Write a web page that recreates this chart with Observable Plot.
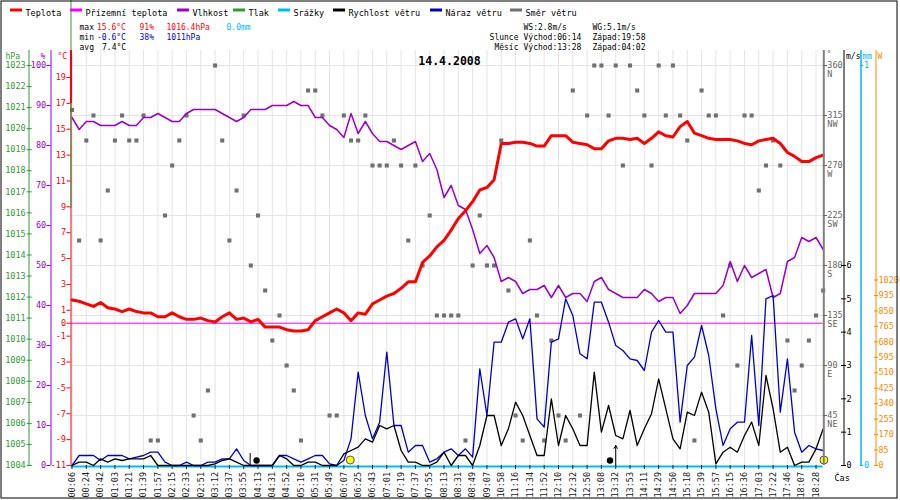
<!DOCTYPE html>
<html><head><meta charset="utf-8">
<script src="https://cdn.jsdelivr.net/npm/d3@7"></script>
<script src="https://cdn.jsdelivr.net/npm/@observablehq/plot@0.6"></script>
<style>body{margin:0;background:#fff}</style>
</head><body><div id="chart"></div>
<script>
// ---------- data ----------
const times = ["00:06","00:24","00:42","01:03","01:21","01:39","01:57","02:15","02:33","02:51","03:12","03:37","03:55","04:13","04:31","04:52","05:10","05:31","05:49","06:07","06:25","06:43","07:01","07:19","07:37","07:55","08:13","08:31","08:49","09:07","10:58","11:16","11:34","11:52","12:10","12:32","12:50","13:08","13:32","13:53","14:11","14:29","14:50","15:18","15:39","15:57","16:15","16:36","17:03","17:22","17:46","18:07","18:28"];

const temperature = [
 1.8,1.7,1.5,1.3,1.6,1.2,1.1,0.9,1.1,0.9,
 0.8,0.8,0.5,0.5,0.8,0.5,0.3,0.3,0.4,0.2,
 0.1,0.5,0.8,0.3,0.4,0.1,0.3,-0.3,-0.3,-0.3,
 -0.5,-0.6,-0.6,-0.5,0.2,0.5,0.8,1.1,0.8,0.2,
 0.8,0.7,1.5,1.8,2.1,2.3,2.7,3.2,3.2,4.7,
 5.2,5.9,6.4,7.2,8.1,8.7,9.4,10.3,10.5,11.1,
 13.9,13.9,14.0,14.0,13.9,13.7,13.7,14.5,14.5,14.5,
 14.0,13.9,13.8,13.5,13.5,14.1,14.3,14.3,14.2,14.3,
 13.9,14.3,14.8,14.5,14.4,15.2,15.6,14.7,14.5,14.3,
 14.2,14.2,14.2,14.1,13.9,13.8,14.1,14.2,14.3,13.9,
 13.2,12.9,12.5,12.5,12.8,13.0];

const humidity = [
 87,84,86,86,85,85,85,86,85,85,
 87,87,88,87,86,86,88,89,89,89,
 89,88,87,86,87,89,89,89,90,90,
 90,91,90,90,87,87,85,84,82,88,
 83,86,83,81,81,80,79,80,81,76,
 78,74,67,70,65,64,59,53,55,52,
 46,47,46,43,44,44,45,42,45,42,
 43,43,41,46,47,44,43,42,42,42,
 44,43,41,42,42,38,40,43,43,43,
 43,45,51,46,50,47,48,49,42,43,
 51,52,57,56,57,54];

const windSpeed = [
 0,0.1,0.1,0,0.2,0.1,0.2,0.15,0.2,0.2,
 0.2,0.3,0,0,0,0,0,0,0,0,
 0.05,0.15,0.2,0.1,0,0,0,0,0,0.3,
 0.2,0,0,0.1,0.1,0,0,0,0.35,0.45,
 0.55,0.8,0.7,1.2,1.1,1.2,0.45,0.1,0.1,0,
 0,0.1,0.4,0,0.3,0.3,0,0.6,1.5,1.5,
 0.6,1.1,1.9,1.5,0.9,0.3,0.3,2.0,0.6,1.5,
 1.1,0.6,0.6,2.8,1.0,1.8,0.9,0.8,1.65,0.6,
 1.1,1.55,2.6,1.7,0.8,0.5,1.6,1.5,2.2,1.6,
 0.05,0.4,0.55,0.4,0.9,1.3,0.6,2.7,1.7,0.4,
 0.55,0,0.1,0.1,0.5,1.1];

const windGust = [
 0,0.3,0.3,0.3,0.15,0.3,0.3,0.3,0.2,0.25,
 0.3,0.4,0.4,0.1,0,0,0.1,0,0,0.1,
 0.1,0.2,0.2,0.5,0.15,0,0,0,0,0.3,
 0.3,0.2,0.1,0.2,0.3,0.3,0.05,0,0.15,0.8,
 2.8,1.5,0.8,1.3,3.4,1.2,1.2,0.4,0.6,0.6,
 0.1,0.2,0.4,0.5,0.3,0.5,0.25,2.9,1.5,3.7,
 3.7,4.3,4.4,3.8,4.4,1.4,1.15,3.7,3.8,5.0,
 4.5,3.35,3.2,4.9,4.9,4.3,3.6,3.45,3.2,3.15,
 2.85,4.0,4.35,4.0,4.0,1.3,3.0,3.25,4.2,3.3,
 1.7,0.6,1.1,1.3,1.3,3.9,1.2,5.0,5.1,1.6,
 3.2,1.0,0.4,0.6,0.5,0.45];

const windDir = [
 320,202.5,292.5,315,202.5,247.5,292.5,315,292.5,292.5,
 315,22.5,22.5,225,270,292.5,315,45,22.5,67.5,
 360,292.5,202.5,247.5,315,180,225,157.5,112.5,135,
 90,67.5,22.5,337.5,337.5,315,45,45,315,292.5,
 292.5,315,270,270,270,292.5,270,202.5,270,180,
 225,135,135,135,135,22.5,180,225,180,180,
 292.5,157.5,45,22.5,202.5,135,22.5,112.5,45,22.5,
 337.5,45,315,360,360,315,360,270,360,337.5,
 315,270,360,315,360,315,292.5,22.5,337.5,315,
 315,135,180,90,315,315,247.5,270,292.5,270,
 112.5,67.5,90,112.5,135,157.5];

const tempTicks = [19,17,15,13,11,9,7,5,3,1,0,-1,-3,-5,-7,-9,-11];
const humTicks = [100,90,80,70,60,50,40,30,20,10,0];
const pressTicks = [1023,1022,1021,1020,1019,1018,1017,1016,1015,1014,1013,1012,1011,1010,1009,1008,1007,1006,1005,1004];
const dirTicks = [45,90,135,180,225,270,315,360];
const dirNames = ["NE","E","SE","S","SW","W","NW","N"];
const windTicks = [0,1,2,3,4,5,6];
const rainTicks = [0,1];
const solarTicks = [0,85,170,255,340,425,510,595,680,765,850,935,1020];

const legendLabels = ["Teplota","Přízemní teplota","Vlhkost","Tlak","Srážky","Rychlost větru","Náraz větru","Směr větru"];
const chartDate = "14.4.2008";
const maxTemp = 15.6, maxHum = 91, maxPress = 1016.4, rainSum = 0.0;
const minTemp = -0.6, minHum = 38, minPress = 1011;
const avgTemp = 7.4;
const ws = 2.8, wg = 5.1;
const sunRise = "06:14", sunSet = "19:58", moonRise = "13:28", moonSet = "04:02";
const sunMarks = [38.9, 105.1];          // sample index of sunrise / sunset markers
const moonDots = [25.8, 75.2];           // moon markers
const moonSetAt = [24.9];
const moonRiseAt = [76.0];

// ---------- styles ----------
const C = {
  temp: "#ff0000", ground: "#ff00ff", hum: "#9900cc", press: "#339933",
  rain: "#00bbee", ws: "#000000", wg: "#0000cc", dir: "#707070", solar: "#ff8800"
};
const legendColors = [C.temp, C.ground, C.hum, C.press, C.rain, C.ws, C.wg, C.dir];
const legendX = [10, 70, 177, 233, 278, 333, 430, 510];

// ---------- conversions into the shared vertical scale (°C units) ----------
const PX = 388 / 30;                    // pixels per °C
const hT = h => -11 + h / PX;           // height above baseline -> °C units
const fromHum = v => hT(v * 4);
const fromDir = v => hT(v * 400 / 360);
const fromWind = v => hT(v * 200 / 6);
const fromPress = v => hT((v - 1004) * 400 / 19);
const fromRain = v => hT(v * 400);
const fromSolar = v => hT(v * 185.5 / 1020);
const pyT = py => hT(465 - py);          // screen row -> °C units (decorations)
const X0 = 71.5, STEP = 751.2 / 105;
const pxI = px => (px - X0) / STEP;      // screen column -> index units (decorations)
const idx = (d, i) => i;

const label = (txt, x, y, fill = "black", opts = {}) =>
  Plot.text([txt], {frameAnchor: "top-left", dx: x, dy: y, textAnchor: "start", fill, ...opts});
const vline = (px, y1, y2, stroke, w = 1) =>
  Plot.ruleX([pxI(px)], {y1: pyT(y1), y2: pyT(y2), stroke, strokeWidth: w});
const hline = (x1, x2, py, stroke, w = 1) =>
  Plot.ruleY([pyT(py)], {x1: pxI(x1), x2: pxI(x2), stroke, strokeWidth: w});

const axisL = (vals, conv, dx, size, pad, color) =>
  Plot.axisY(vals.map(conv), {anchor: "left", dx, tickSize: size, tickPadding: pad,
    tickFormat: (d, i) => String(vals[i]), color, label: null});
const axisR = (vals, conv, px, size, pad, color, fmt = (d, i) => String(vals[i]), extra = {}) =>
  Plot.axisY(vals.map(conv), {anchor: "right", dx: px - 900, tickSize: size, tickPadding: pad,
    tickFormat: fmt, color, label: null, ...extra});

const small = {fontSize: 8};

const marks = [
  // grid
  Plot.ruleX(d3.range(0, 105, 2), {y1: pyT(50), y2: pyT(465), stroke: "#e4e4e4"}),
  Plot.ruleY(dirTicks.map(fromDir), {x1: pxI(70.5), x2: pxI(823), stroke: "#e4e4e4"}),
  // ground temperature zero line
  Plot.ruleY([0], {x1: pxI(70.5), x2: 105, stroke: C.ground}),
  // wind direction
  Plot.dot(windDir, {x: idx, y: fromDir, symbol: "square", r: 2.3, fill: C.dir, stroke: null}),
  // humidity
  Plot.line(humidity, {x: idx, y: fromHum, stroke: C.hum, strokeWidth: 1.5, curve: "linear"}),
  // temperature
  Plot.line(temperature, {x: idx, y: d => d, stroke: C.temp, strokeWidth: 3, curve: "linear"}),
  // rain zero
  Plot.ruleY(rainTicks.slice(0, 1).map(fromRain), {x1: pxI(70.5), x2: 105, stroke: C.rain, strokeWidth: 2, dy: 1}),
  // gusts and wind speed
  Plot.line(windGust, {x: idx, y: fromWind, stroke: C.wg, strokeWidth: 1.3}),
  Plot.line(windSpeed, {x: idx, y: fromWind, stroke: C.ws, strokeWidth: 1.3}),
  // sun and moon markers
  Plot.ruleX(moonSetAt, {y1: pyT(453), y2: pyT(465), stroke: "black"}),
  Plot.arrow(moonRiseAt, {x1: d => d, x2: d => d, y1: pyT(465), y2: pyT(445), stroke: "black", headLength: 5, strokeWidth: 1}),
  Plot.dot(moonDots, {x: d => d, y: pyT(460), r: 3.2, fill: "black"}),
  Plot.dot(sunMarks, {x: d => d, y: pyT(459.5), r: 4, fill: "#ffff00", stroke: "#555", strokeWidth: 1}),

  // axis lines
  vline(28.5, 50, 465, C.press),
  vline(50.5, 50, 465, C.hum),
  vline(70.5, 50, 465, C.temp),
  vline(70.5, 0, 208, C.press),
  vline(70.5, 50, 103, C.temp, 2),
  vline(823.3, 50, 465, "#808080", 2),
  vline(843.5, 50, 465, "black"),
  vline(860.5, 50, 465, C.rain, 1.5),
  vline(875.5, 50, 465, C.solar),

  // left axes
  axisL(pressTicks, fromPress, 31.7, 5, 1.5, C.press),
  axisL(humTicks, fromHum, 50.5, 4, 0.8, C.hum),
  axisL(tempTicks, d => d, 70.5, 4, 1, C.temp),
  // right axes
  axisR(dirTicks, fromDir, 822, 4, 0.8, "#666"),
  axisR(dirTicks, fromDir, 822, 0, 4.8, "#666", (d, i) => dirNames[i], {dy: 8.5}),
  axisR(windTicks, fromWind, 840, 5, 1, "black"),
  axisR(rainTicks, fromRain, 859, 3, 1.5, C.rain),
  axisR(solarTicks, fromSolar, 873, 4, 1, C.solar),

  // time axis
  Plot.axisX(d3.range(0, 105, 2), {anchor: "bottom", dy: -35, tickSize: 4, tickPadding: 2.5,
    tickRotate: -90, tickFormat: (d, i) => times[i], color: "#222", label: null}),
  label("Čas", 834, 474),

  // axis headers
  label("hPa", 5, 52.5, C.press, small),
  label("%", 40, 52.5, C.hum, small),
  label("°C", 57, 52.5, C.temp, small),
  label("°", 826, 50.5, "#666", small),
  label("m/s", 845.5, 52.5, "black", small),
  label("mm", 862, 52.5, C.rain, small),
  label("W", 877, 52.5, C.solar, small),

  // title
  label(chartDate, 449, 56, "black", {textAnchor: "middle", fontWeight: "bold", fontSize: 11.5}),

  // legend
  ...legendLabels.flatMap((t, k) => [
    hline(legendX[k], legendX[k] + 12, 9.5, legendColors[k], 3),
    label(t, legendX[k] + 15, 9.5)
  ]),

  // statistics
  label("max", 79, 24, "black", small),
  label(`${maxTemp}°C`, 96.5, 24, C.temp, small),
  label(`${maxHum}%`, 139, 24, C.temp, small),
  label(`${maxPress}hPa`, 166, 24, C.temp, small),
  label(`${rainSum.toFixed(1)}mm`, 226, 24, C.rain, small),
  label("min", 79, 34, "black", small),
  label(`${minTemp}°C`, 96.5, 34, "#0000dd", small),
  label(`${minHum}%`, 139, 34, "#0000dd", small),
  label(`${minPress}hPa`, 166, 34, "#0000dd", small),
  label("avg", 79, 44, "black", small),
  label(`${avgTemp}°C`, 101.5, 44, "black", small),
  label(`WS:${ws}m/s`, 523, 24, "black", small),
  label(`WG:${wg}m/s`, 592, 24, "black", small),
  label("Slunce", 518, 34, "black", {textAnchor: "end", ...small}),
  label(`Východ:${sunRise}`, 523, 34, "black", small),
  label(`Západ:${sunSet}`, 592, 34, "black", small),
  label("Měsíc", 518, 44, "black", {textAnchor: "end", ...small}),
  label(`Východ:${moonRise}`, 523, 44, "black", small),
  label(`Západ:${moonSet}`, 592, 44, "black", small),

  Plot.frame({stroke: "black", insetTop: 0.5, insetLeft: 0.5, insetRight: 3.5, insetBottom: 2.5})
];

const chart = Plot.plot({
  width: 900, height: 500, margin: 0,
  style: {fontFamily: "'DejaVu Sans Mono', monospace", fontSize: "8.5px", background: "white", color: "black"},
  x: {domain: [0, 105], range: [X0, X0 + 105 * STEP]},
  y: {domain: [-11, 19], range: [465, 77]},
  marks
});
document.getElementById("chart").append(chart);
</script>
</body></html>
